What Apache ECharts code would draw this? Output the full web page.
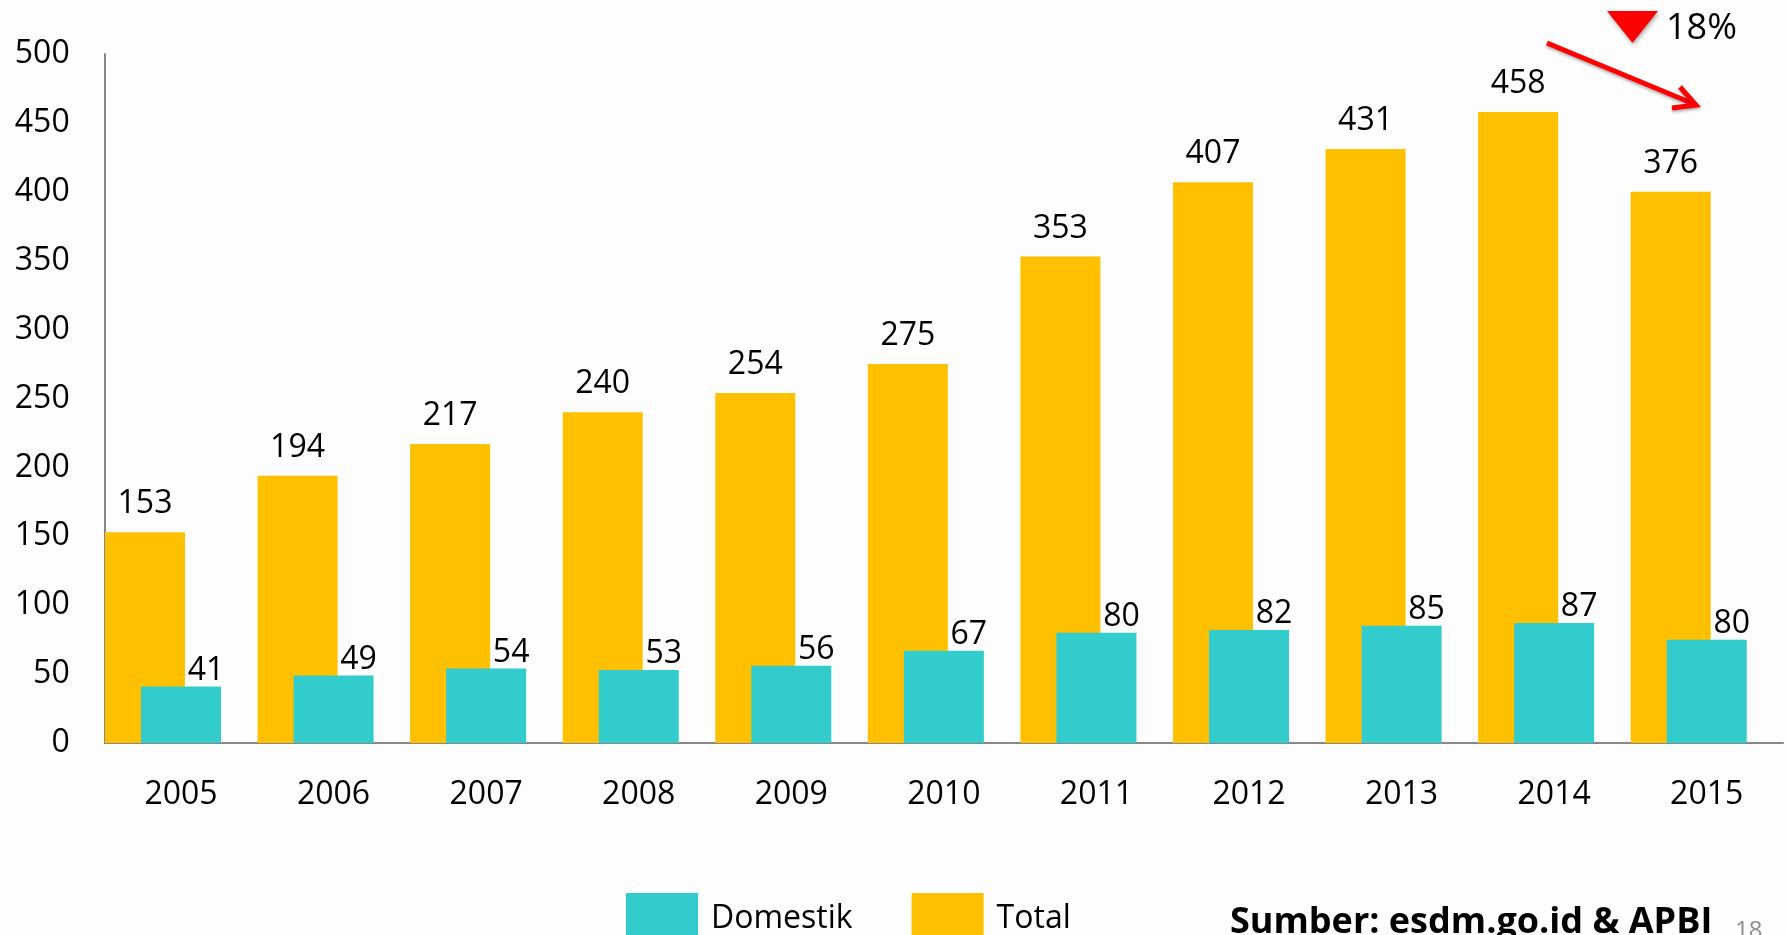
<!DOCTYPE html>
<html>
<head>
<meta charset="utf-8">
<script src="https://cdn.jsdelivr.net/npm/echarts@6/dist/echarts.min.js"></script>
<style>
  html, body { margin: 0; padding: 0; background: #fdfdfd; }
  #chart { width: 1787px; height: 935px; }
</style>
</head>
<body>
<div id="chart"></div>
<script>
  // data
  var years = ['2005', '2006', '2007', '2008', '2009', '2010', '2011', '2012', '2013', '2014', '2015']
  // bar heights as drawn
  var totalValues = [153, 194, 217, 240, 254, 275, 353, 407, 431, 458, 400]
  var domestikValues = [41, 49, 54, 53, 56, 67, 80, 82, 85, 87, 75]
  // numbers printed above the bars
  var totalLabels = ['153', '194', '217', '240', '254', '275', '353', '407', '431', '458', '376']
  var domestikLabels = ['41', '49', '54', '53', '56', '67', '80', '82', '85', '87', '80']
  var yTicks = { min: 0, max: 500, interval: 50 }

  var font = 'Open Sans'
  var myChart = echarts.init(document.getElementById('chart'))

  myChart.setOption({
    backgroundColor: '#fdfdfd',
    animation: false,
    textStyle: { fontFamily: font, color: '#000' },
    grid: { left: 104.7, right: 4, top: 54, bottom: 192 },
    legend: {
      data: ['Domestik', 'Total'],
      left: 621,
      top: 888,
      icon: 'rect',
      itemWidth: 72,
      itemHeight: 52,
      itemGap: 59,
      textStyle: { fontSize: 32, fontFamily: font, color: '#000', padding: [0, 0, 0, 8] }
    },
    xAxis: {
      type: 'category',
      data: years,
      axisLine: { lineStyle: { color: '#888', width: 2 } },
      axisTick: { show: false },
      axisLabel: { fontSize: 32, color: '#000', margin: 36 }
    },
    yAxis: {
      type: 'value',
      min: yTicks.min,
      max: yTicks.max,
      interval: yTicks.interval,
      axisLine: { show: true, lineStyle: { color: '#888', width: 2 } },
      axisTick: { show: false },
      splitLine: { show: false },
      axisLabel: { fontSize: 32, color: '#000', margin: 35, padding: [4, 0, 0, 0] }
    },
    series: [
      {
        name: 'Total',
        type: 'bar',
        data: totalValues,
        barWidth: 80,
        barGap: '-55%',
        itemStyle: { color: '#FFC000' },
        label: {
          show: true,
          position: 'top',
          distance: 12,
          fontSize: 32,
          color: '#000',
          formatter: function (p) { return totalLabels[p.dataIndex] }
        }
      },
      {
        name: 'Domestik',
        type: 'bar',
        data: domestikValues,
        barWidth: 80,
        barGap: '-55%',
        itemStyle: { color: '#33CCCC' },
        label: {
          show: true,
          position: 'top',
          distance: 0,
          offset: [25, 0],
          fontSize: 32,
          color: '#000',
          formatter: function (p) { return domestikLabels[p.dataIndex] }
        }
      },
      {
        // empty spacer so the teal bar sits on the category centre
        name: 'spacer',
        type: 'bar',
        data: years.map(function () { return null }),
        barWidth: 80,
        barGap: '-55%',
        silent: true
      }
    ],
    graphic: [
      {
        type: 'polygon',
        shape: { points: [[1607, 11], [1658, 11], [1632.5, 43]] },
        style: { fill: '#ff0000', shadowBlur: 4, shadowColor: 'rgba(0,0,0,0.35)', shadowOffsetX: 1, shadowOffsetY: 2 }
      },
      {
        type: 'text',
        left: 1666,
        top: 11,
        style: { text: '18%', font: '36px "Open Sans"', fill: '#000' }
      },
      {
        type: 'line',
        shape: { x1: 1547, y1: 43, x2: 1694, y2: 104 },
        style: { stroke: '#ff0000', lineWidth: 5, shadowBlur: 3, shadowColor: 'rgba(0,0,0,0.3)', shadowOffsetY: 2 }
      },
      {
        type: 'polyline',
        shape: { points: [[1680, 87], [1696, 105], [1672, 108]] },
        style: { stroke: '#ff0000', lineWidth: 5, fill: null, lineJoin: 'miter', shadowBlur: 3, shadowColor: 'rgba(0,0,0,0.3)', shadowOffsetY: 2 }
      },
      {
        type: 'text',
        left: 1230,
        top: 905,
        style: { text: 'Sumber: esdm.go.id & APBI', font: 'bold 36px "Open Sans"', fill: '#000' }
      },
      {
        type: 'text',
        left: 1735,
        top: 919,
        style: { text: '18', font: '24px "Open Sans"', fill: '#8c8c8c' }
      }
    ]
  })
</script>
</body>
</html>
